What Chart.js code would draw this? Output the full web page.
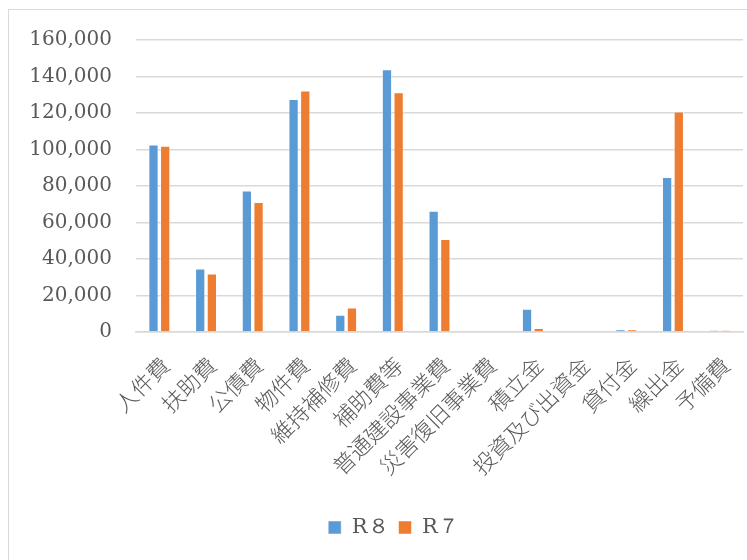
<!DOCTYPE html>
<html>
<head>
<meta charset="utf-8">
<script src="https://cdn.jsdelivr.net/npm/chart.js@4.4.0/dist/chart.umd.min.js"></script>
<style>
  html, body { margin: 0; padding: 0; background: #fff; overflow: hidden; }
  #wrap { position: relative; width: 747px; height: 560px; }
  #frame { position: absolute; left: 8px; top: 9px; width: 800px; height: 600px;
           border: 1.5px solid #d9d9d9; box-sizing: border-box; pointer-events: none; }
  canvas { position: absolute; left: 0; top: 0; }
</style>
</head>
<body>
<div id="wrap">
  <canvas id="chart" width="747" height="560"></canvas>
  <div id="frame"></div>
</div>
<script>
// categories and values
const categories = [
  '人件費', '扶助費', '公債費', '物件費', '維持補修費', '補助費等',
  '普通建設事業費', '災害復旧事業費', '積立金', '投資及び出資金',
  '貸付金', '繰出金', '予備費'
];
const r8_values = [102800, 34800, 77500, 127700, 9400, 144000, 66400, 0, 12800, 0, 1500, 85000, 1000];
const r7_values = [102100, 32000, 71300, 132300, 13400, 131400, 51000, 0, 2200, 0, 1400, 120800, 1000];
const y_ticks = [0, 20000, 40000, 60000, 80000, 100000, 120000, 140000, 160000];

const TEXT_COLOR = '#595959';
const GRID_COLOR = '#d9d9d9';

function fmt_number( v ) {
  return v.toLocaleString( 'en-US' );
}

// legend sits a bit right of the canvas centre in the original
const legend_shift = {
  id: 'legend_shift',
  afterLayout( chart ) {
    chart.legend.left += 22;
    chart.legend.right += 22;
  }
};

var ctx = document.getElementById( 'chart' ).getContext( '2d' );
var chart = new Chart( ctx, {
  type: 'bar',
  data: {
    labels: categories,
    datasets: [ {
      label: 'R８',
      data: r8_values,
      backgroundColor: '#5B9BD5',
      borderColor: 'rgba(255,255,255,0.5)',
      borderWidth: 1,
      categoryPercentage: 0.5,
      barPercentage: 0.88
    }, {
      label: 'R７',
      data: r7_values,
      backgroundColor: '#ED7D31',
      borderColor: 'rgba(255,255,255,0.5)',
      borderWidth: 1,
      categoryPercentage: 0.5,
      barPercentage: 0.88
    } ]
  },
  plugins: [ legend_shift ],
  options: {
    responsive: false,
    animation: false,
    layout: {
      padding: { top: 40, right: 4, left: 0, bottom: 12 }
    },
    plugins: {
      tooltip: { enabled: false },
      legend: {
        position: 'bottom',
        labels: {
          color: TEXT_COLOR,
          font: { family: 'DejaVu Serif', size: 21 },
          boxWidth: 13,
          boxHeight: 13,
          padding: 10
        }
      }
    },
    scales: {
      x: {
        grid: { display: false, drawTicks: false },
        border: { display: true, color: GRID_COLOR, width: 1.5 },
        ticks: {
          color: TEXT_COLOR,
          font: { family: 'Noto Sans CJK JP', size: 22, weight: 300 },
          autoSkip: false,
          maxRotation: 45,
          minRotation: 45,
          padding: 20,
          labelOffset: 6
        },
        afterFit: function ( scale ) {
          scale.height = 175;
          // keep the plot area edges fixed
          scale.paddingLeft = 0;
          scale.paddingRight = 0;
        }
      },
      y: {
        min: 0,
        max: 160000,
        afterBuildTicks: function ( scale ) {
          scale.ticks = y_ticks.map( v => ( { value: v } ) );
        },
        grid: { color: GRID_COLOR, lineWidth: 1.5, drawTicks: false },
        border: { display: false },
        ticks: {
          color: TEXT_COLOR,
          font: { family: 'DejaVu Serif', size: 20 },
          padding: 24,
          callback: function ( v ) { return fmt_number( v ); }
        },
        afterFit: function ( scale ) {
          scale.width = 136;
        }
      }
    }
  }
} );
</script>
</body>
</html>
